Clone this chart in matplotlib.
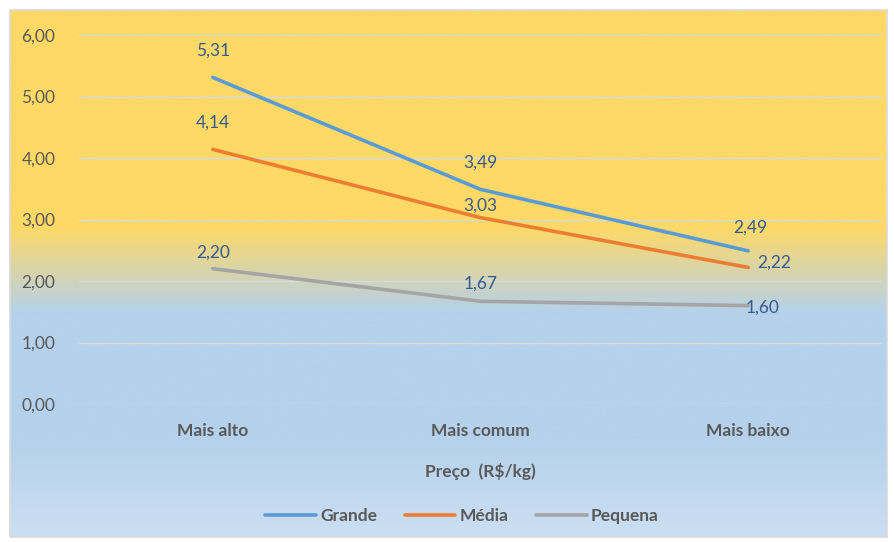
import matplotlib
matplotlib.use('Agg')
import matplotlib.pyplot as plt
from matplotlib.colors import LinearSegmentedColormap
from matplotlib.patches import Rectangle
import numpy as np

plt.rcParams['font.family'] = ['Lato', 'DejaVu Sans']

# Data
categories = ['Mais alto', 'Mais comum', 'Mais baixo']
grande = [5.31, 3.49, 2.49]
media = [4.14, 3.03, 2.22]
pequena = [2.20, 1.67, 1.60]
series_names = ['Grande', 'Média', 'Pequena']
yticks = [0, 1, 2, 3, 4, 5, 6]

colors = ['#5B9BD5', '#ED7D31', '#A5A5A5']
# label offsets in pixels for each point
offsets = [
    [(0, 27), (0, 27), (2, 23)],
    [(0, 27), (0, 12), (26, 5)],
    [(0, 16), (0, 18), (14, -2)],
]

W, H = 894, 542
fig = plt.figure(figsize=(W / 100, H / 100), dpi=100)
fig.patch.set_facecolor('white')

# background gradient of the chart area
bg = fig.add_axes([0, 0, 1, 1], zorder=-1)
bg.set_xlim(0, W)
bg.set_ylim(H, 0)
bg.axis('off')
cmap = LinearSegmentedColormap.from_list('bg', [
    (0.0, '#FED966'),
    (0.41, '#FED966'),
    (0.575, '#B5D1EB'),
    (0.82, '#B5D1EB'),
    (1.0, '#CCDFF2'),
])
grad = np.linspace(0, 1, 400).reshape(-1, 1)
bg.imshow(grad, cmap=cmap, aspect='auto', extent=[10, 887, 537, 10], interpolation='bilinear')
bg.add_patch(Rectangle((10, 10), 877, 527, fill=False, edgecolor='#D9D9D9', lw=1.2))

ax = fig.add_axes([79 / W, (H - 404) / H, (882 - 79) / W, (404 - 35) / H])
ax.set_facecolor('none')
x = np.arange(len(categories))
for vals, name, c, offs in zip([grande, media, pequena], series_names, colors, offsets):
    ax.plot(x, vals, color=c, lw=2.6, label=name, solid_capstyle='round')
    for xi, v, (dx, dy) in zip(x, vals, offs):
        ax.annotate(f'{v:.2f}'.replace('.', ','), (xi, v), xytext=(dx, dy),
                    textcoords='offset pixels', ha='center', va='center',
                    fontsize=12.5, color='#365A90')

ax.set_xlim(-0.5, 2.5)
ax.set_ylim(0, 6)
ax.set_yticks(yticks)
ax.set_yticklabels([f'{t:.2f}'.replace('.', ',') for t in yticks], fontsize=12.5, color='#595959')
ax.set_xticks(x)
ax.set_xticklabels(categories, fontsize=12.5, color='#595959', fontweight='bold')
ax.tick_params(axis='y', length=0, pad=17)
ax.tick_params(axis='x', length=0, pad=14)
ax.grid(axis='y', color='#DADADA', lw=1)
ax.set_axisbelow(True)
for s in ax.spines.values():
    s.set_visible(False)
ax.set_xlabel('Preço  (R$/kg)', fontsize=12.5, color='#595959', fontweight='bold', labelpad=17)

leg = ax.legend(loc='center', bbox_to_anchor=(462 / W, (H - 516) / H), bbox_transform=fig.transFigure,
                ncol=3, frameon=False, handlelength=2.9, handletextpad=0.25, columnspacing=1.6,
                prop={'size': 12.5, 'weight': 'bold'})
for t in leg.get_texts():
    t.set_color('#595959')

fig.savefig('out.png', dpi=100)
